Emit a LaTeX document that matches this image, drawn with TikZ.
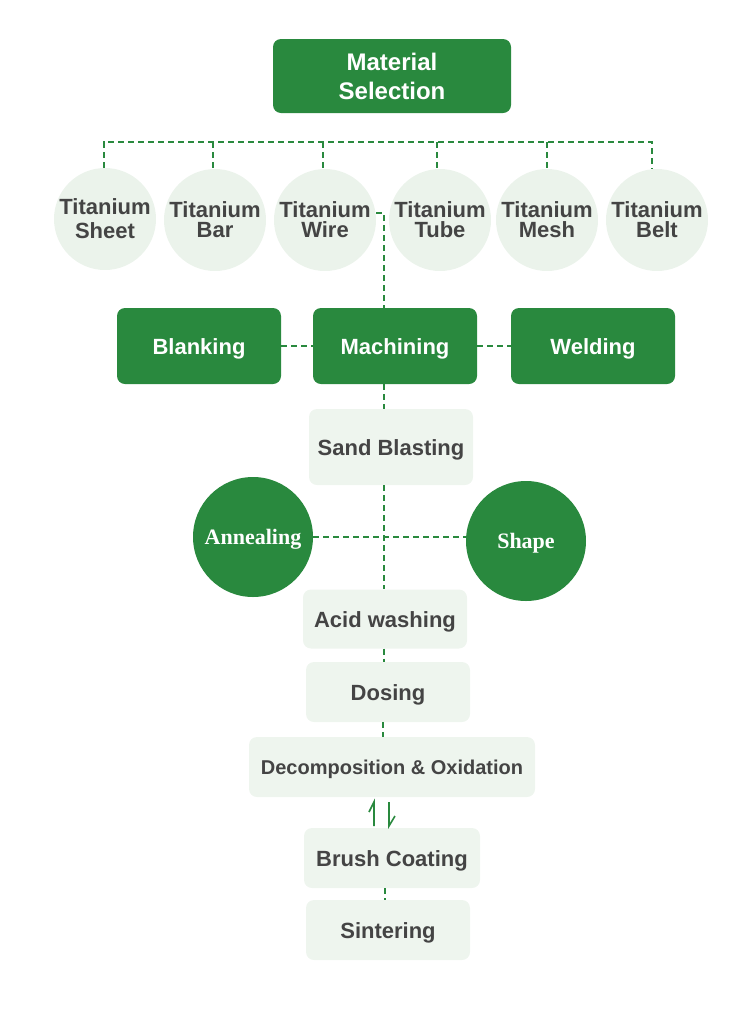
\documentclass[tikz,border=0pt]{standalone}
\usepackage{fontspec}
\setmainfont{Liberation Serif}
\setsansfont{Liberation Sans}
\usetikzlibrary{calc}
\definecolor{G}{RGB}{41,137,62}
\definecolor{L}{RGB}{238,245,238}
\definecolor{Lc}{RGB}{235,243,235}
\definecolor{T}{RGB}{68,68,68}
\tikzset{
  gbox/.style={rectangle,rounded corners=8pt,fill=G,text=white,minimum width=164pt,minimum height=76pt,inner sep=0pt,text height=16pt,text depth=0pt,font=\sffamily\bfseries\fontsize{22}{22}\selectfont},
  lbox/.style={rectangle,rounded corners=8pt,fill=L,text=T,minimum width=164pt,minimum height=60pt,inner sep=0pt,text height=16pt,text depth=0pt,font=\sffamily\bfseries\fontsize{22}{22}\selectfont},
  tcirc/.style={circle,fill=Lc,text=T,minimum size=102pt,inner sep=0pt,align=center,font=\sffamily\bfseries\fontsize{22}{20}\selectfont},
  gcirc/.style={circle,fill=G,text=white,minimum size=120pt,inner sep=0pt,text height=15pt,text depth=0pt,font=\rmfamily\bfseries\fontsize{22}{22}\selectfont},
  link/.style={draw=G,line width=1.6pt,dash pattern=on 6pt off 4pt},
  harp/.style={draw=G,line width=1.6pt,line join=miter}
}
\begin{document}
\begin{tikzpicture}[x=1pt,y=-1pt]
\useasboundingbox (0,0) rectangle (750,1010);
% top
\node[gbox,minimum width=238pt,minimum height=74pt,align=center,text height=,text depth=,font=\sffamily\bfseries\fontsize{24}{29}\selectfont] (mat) at (392,76) {Material\\Selection};
% titanium circles
\node[tcirc,font=\sffamily\bfseries\fontsize{22}{24}\selectfont] (c1) at (105,219) {Titanium\\Sheet};
\node[tcirc] (c2) at (215,220) {Titanium\\Bar};
\node[tcirc] (c3) at (325,220) {Titanium\\Wire};
\node[tcirc] (c4) at (440,220) {Titanium\\Tube};
\node[tcirc] (c5) at (547,220) {Titanium\\Mesh};
\node[tcirc] (c6) at (657,220) {Titanium\\Belt};
\coordinate (h1) at (104,142);
\coordinate (h6) at (652,142);
\draw[link] (h1 |- c1.north) -- (h1) -- (h6) -- (h6 |- c6.north);
\foreach \c/\xx in {c2/213,c3/323,c4/437,c5/547}{\draw[link] (\xx,142) -- (\xx,0 |- \c.north);}
% row of green boxes
\node[gbox] (blank) at (199,346) {Blanking};
\node[gbox] (mach) at (395,346) {Machining};
\node[gbox] (weld) at (593,346) {Welding};
\draw[link] (blank.east) -- (mach.west);
\draw[link] (mach.east) -- (weld.west);
\coordinate (sp0) at (376,213);
\coordinate (sp1) at (384,213);
\draw[link] (sp0) -- (sp1) -- (sp1 |- mach.north);
% sand blasting
\node[lbox,minimum height=76pt] (sand) at (391,447) {Sand Blasting};
\draw[link] (sp1 |- mach.south) -- (sp1 |- sand.north);
% circles
\node[gcirc] (ann) at (253,537) {Annealing};
\node[gcirc] (shape) at (526,541) {Shape};
\node[lbox,minimum height=59pt] (acid) at (385,619) {Acid washing};
\draw[link] (sp1 |- sand.south) -- (sp1 |- acid.north);
\draw[link] (ann.east) -- (ann.east -| shape.west);
% lower chain
\node[lbox] (dos) at (388,692) {Dosing};
\node[lbox,minimum width=286pt,text height=14.5pt,font=\sffamily\bfseries\fontsize{20}{20}\selectfont] (dec) at (392,767) {Decomposition \& Oxidation};
\node[lbox,minimum width=176pt] (brush) at (392,858) {Brush Coating};
\node[lbox] (sint) at (388,930) {Sintering};
\draw[link] (sp1 |- acid.south) -- (sp1 |- dos.north);
\draw[link] (383,0 |- dos.south) -- (383,0 |- dec.north);
\draw[link] (385,0 |- brush.south) -- (385,0 |- sint.north);
% equilibrium harpoons
\coordinate (hua) at (374,826);
\coordinate (hub) at (374,802);
\coordinate (hda) at (389,802);
\coordinate (hdb) at (389,826);
\draw[harp] (hua) -- (hub) -- ++(-5,10);
\draw[harp] (hda) -- (hdb) -- ++(6,-10);
\end{tikzpicture}
\end{document}
